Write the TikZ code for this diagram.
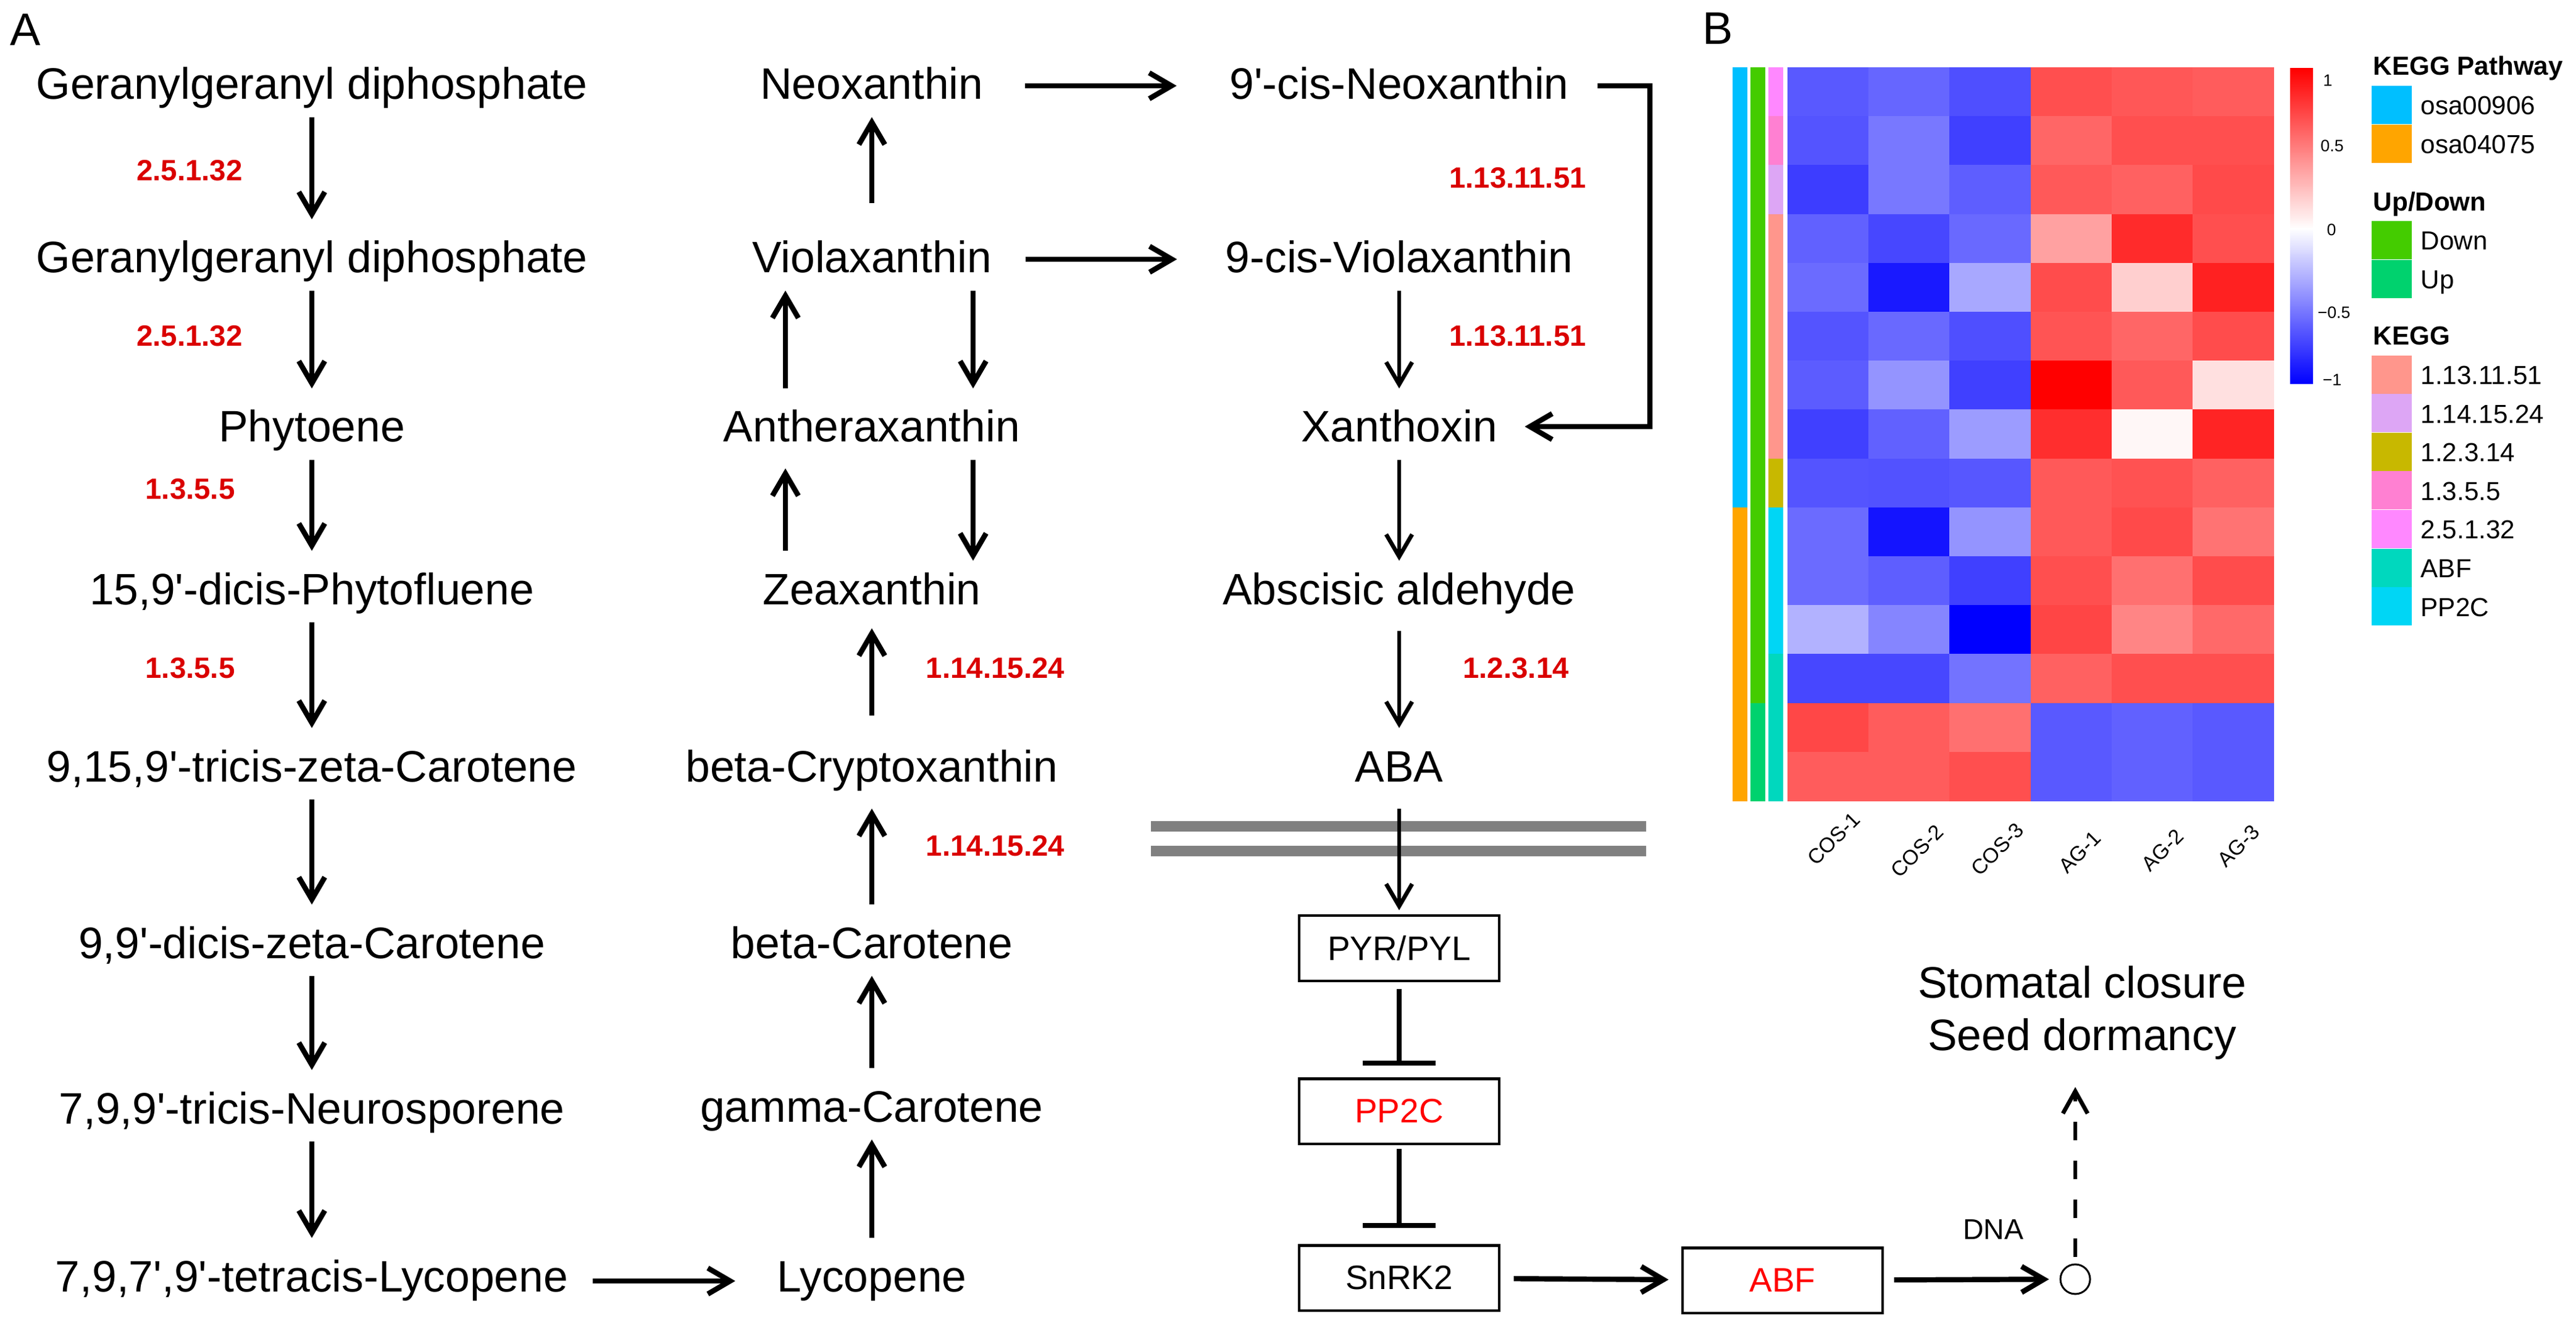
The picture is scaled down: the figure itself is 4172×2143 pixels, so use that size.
\documentclass[tikz,border=0pt]{standalone}
\usepackage{fontspec}
\setmainfont{Liberation Sans}
\usetikzlibrary{arrows.meta}
\definecolor{labred}{RGB}{218,0,0}
\definecolor{memgray}{RGB}{128,128,128}
\definecolor{hmPathA}{HTML}{00BFFF}
\definecolor{hmPathB}{HTML}{FFA500}
\definecolor{hmDown}{HTML}{44CC00}
\definecolor{hmUp}{HTML}{00D26E}
\definecolor{hmKa}{HTML}{FF968C}
\definecolor{hmKb}{HTML}{DDA6F5}
\definecolor{hmKc}{HTML}{C8B800}
\definecolor{hmKd}{HTML}{FF80D2}
\definecolor{hmKe}{HTML}{FF88FF}
\definecolor{hmKf}{HTML}{00D8BE}
\definecolor{hmKg}{HTML}{00D6F5}
\newcommand{\ap}{\textquotesingle}
\begin{document}
\begin{tikzpicture}[x=0.01cm,y=-0.01cm,
  met/.style={font=\fontsize{20.3}{24}\selectfont, anchor=base, inner sep=0pt, text height=0.86cm, text depth=0.28cm},
  ec/.style={font=\fontsize{13.5}{16}\selectfont\bfseries, text=labred, anchor=base, inner sep=0pt},
  box/.style={draw, line width=1.15pt, minimum width=3.23cm, minimum height=1.05cm, inner sep=0pt, font=\fontsize{15.6}{18}\selectfont},
  arr/.style={line width=2.4pt, -{Straight Barb[length=3.6mm,width=4.2mm]}},
  arrthin/.style={line width=1.9pt, -{Straight Barb[length=3.6mm,width=4.2mm]}},
  inh/.style={line width=2.5pt, -{Bar[width=1.18cm]}},
  mem/.style={line width=0.17cm, memgray},
  panel/.style={font=\fontsize{21}{24}\selectfont, anchor=base west, inner sep=0pt},
  legt/.style={font=\fontsize{12}{14}\selectfont\bfseries, anchor=base west, inner sep=0pt},
  legi/.style={font=\fontsize{12}{14}\selectfont, anchor=base west, inner sep=0pt},
  tick/.style={font=\fontsize{7.6}{9}\selectfont, inner sep=0pt},
  collab/.style={font=\fontsize{9.6}{11}\selectfont, rotate=45, anchor=base east, inner sep=0pt}
]
\useasboundingbox (0,0) rectangle (4172,2143);

% panel labels
\node[panel] (pA) at (16,74) {A};
\node[panel] (pB) at (2757,72) {B};

% column 1
\node[met] (g1) at (505,161) {Geranylgeranyl diphosphate};
\node[met] (g2) at (505,442) {Geranylgeranyl diphosphate};
\node[met] (phy) at (505,716) {Phytoene};
\node[met] (pfl) at (505,979) {15,9\ap-dicis-Phytofluene};
\node[met] (zca) at (505,1266) {9,15,9\ap-tricis-zeta-Carotene};
\node[met] (zcb) at (505,1552) {9,9\ap-dicis-zeta-Carotene};
\node[met] (neu) at (505,1820) {7,9,9\ap-tricis-Neurosporene};
\node[met] (tly) at (505,2092) {7,9,7\ap,9\ap-tetracis-Lycopene};

\node[ec] (e1) at (307,293) {2.5.1.32};
\node[ec] (e2) at (307,561) {2.5.1.32};
\node[ec] (e3) at (308,808) {1.3.5.5};
\node[ec] (e4) at (308,1098) {1.3.5.5};

\draw[arr] (g1) -- (g2);
\draw[arr] (g2) -- (phy);
\draw[arr] (phy) -- (pfl);
\draw[arr] (pfl) -- (zca);
\draw[arr] (zca) -- (zcb);
\draw[arr] (zcb) -- (neu);
\draw[arr] (neu) -- (tly);

% column 2
\node[met] (neo) at (1412,161) {Neoxanthin};
\node[met] (vio) at (1412,442) {Violaxanthin};
\node[met] (ant) at (1412,716) {Antheraxanthin};
\node[met] (zea) at (1412,979) {Zeaxanthin};
\node[met] (bcr) at (1412,1266) {beta-Cryptoxanthin};
\node[met] (bca) at (1412,1552) {beta-Carotene};
\node[met] (gca) at (1412,1817) {gamma-Carotene};
\node[met] (lyc) at (1412,2092) {Lycopene};

\node[ec] (e5) at (1612,1098) {1.14.15.24};
\node[ec] (e6) at (1612,1386) {1.14.15.24};

\coordinate (cL) at (1272,0);
\coordinate (cR) at (1576,0);

\draw[arr, shorten <=0.26cm] (vio) -- (neo);
\draw[arr] (ant.north -| cL) -- (vio.south -| cL);
\draw[arr] (vio.south -| cR) -- (ant.north -| cR);
\draw[arr] (zea.north -| cL) -- ([yshift=-0.14cm]ant.south -| cL);
\draw[arr] (ant.south -| cR) -- ([yshift=-0.16cm]zea.north -| cR);
\draw[arr, shorten <=0.2cm, shorten >=0.1cm] (bcr) -- (zea);
\draw[arr, shorten >=0.15cm] (bca) -- (bcr);
\draw[arr] (gca) -- (bca);
\draw[arr] (lyc) -- (gca);

\draw[arr] ([shift={(39,12)}]tly.east) -- ([shift={(-67,12)}]lyc.west);

% column 3
\node[met] (cneo) at (2266,161) {9\ap-cis-Neoxanthin};
\node[met] (cvio) at (2266,442) {9-cis-Violaxanthin};
\node[met] (xan) at (2266,716) {Xanthoxin};
\node[met] (absa) at (2266,979) {Abscisic aldehyde};
\node[met] (aba) at (2266,1266) {ABA};

\node[ec] (e7) at (2458,305) {1.13.11.51};
\node[ec] (e8) at (2458,561) {1.13.11.51};
\node[ec] (e9) at (2455,1098) {1.2.3.14};

\draw[arr] ([shift={(67,7)}]neo.east) -- ([shift={(-85,7)}]cneo.west);
\draw[arr] ([shift={(54,7)}]vio.east) -- ([shift={(-78,7)}]cvio.west);
\draw[arrthin] (cvio) -- (xan);
\draw[arrthin, shorten >=-0.16cm] (xan) -- (absa);
\draw[arrthin, shorten <=0.14cm] (absa) -- (aba);

\coordinate (eR) at (2672,139);
\coordinate (eB) at (2672,691);
\draw[arr, line join=miter] ([shift={(46,7)}]cneo.east) -- (eR) -- (eB) -- ([shift={(44,4)}]xan.east);

% membrane
\coordinate (m1a) at (1864,1338);
\coordinate (m1b) at (2666,1338);
\coordinate (m2a) at (1864,1378);
\coordinate (m2b) at (2666,1378);
\draw[mem] (m1a) -- (m1b);
\draw[mem] (m2a) -- (m2b);

% signalling
\node[box] (pyr) at (2266,1536) {PYR/PYL};
\node[box, text=red] (pp2c) at (2266,1800) {PP2C};
\node[box] (snrk) at (2266,2070) {SnRK2};
\node[box, text=red] (abf) at (2887,2074) {ABF};
\node[draw, circle, line width=0.85pt, minimum size=0.48cm, inner sep=0pt] (circ) at (3361,2072) {};
\node[font=\fontsize{13.2}{15}\selectfont, anchor=base, inner sep=0pt] (dna) at (3228,2007) {DNA};
\node[met] (resa) at (3372,1616) {Stomatal closure};
\node[met] (resb) at (3372,1701) {Seed dormancy};

\draw[arrthin, shorten <=0.15cm, shorten >=0.07cm] (aba) -- (pyr);
\draw[inh, shorten <=0.11cm, shorten >=0.19cm] (pyr) -- (pp2c);
\draw[inh, shorten <=0.06cm, shorten >=0.26cm] (pp2c) -- (snrk);
\draw[arr, shorten <=0.22cm, shorten >=0.21cm] (snrk) -- (abf);
\draw[arr, shorten <=0.17cm, shorten >=0.17cm] (abf) -- (circ);
\draw[line width=1.9pt, dash pattern=on 0.3cm off 0.33cm, -{Straight Barb[length=3.6mm,width=4mm]}, shorten <=0.1cm, shorten >=0.31cm] (circ) -- (resb.south -| circ);

% ---------- heatmap ----------
\foreach \r/\vals in {
 1/{-65,-60,-69,69,66,64},
 2/{-67,-53,-75,60,69,69},
 3/{-76,-53,-63,65,62,71},
 4/{-62,-72,-59,37,83,69},
 5/{-58,-90,-34,70,19,87},
 6/{-67,-59,-69,67,60,70},
 7/{-64,-42,-75,100,65,12},
 8/{-75,-62,-39,82,3,86},
 9/{-67,-68,-66,65,68,62},
 10/{-58,-92,-42,65,71,55},
 11/{-58,-63,-75,69,56,70},
 12/{-30,-48,-100,73,48,59},
 13/{-72,-72,-55,62,69,69},
 14/{72,64,56,-65,-62,-65},
 15/{64,64,69,-65,-62,-65}}{
  \foreach \v [count=\c] in \vals {
    \ifnum\v<0 \edef\hma{\the\numexpr 0-(\v)\relax}\def\hmc{blue}\else\edef\hma{\v}\def\hmc{red}\fi
    \fill[\hmc!\hma!white] ({2895+(\c-1)*131.17},{109+(\r-1)*79.2}) rectangle ({2895+\c*131.17+0.6},{109+\r*79.2+0.6});
  }
}
% annotation bars
\foreach \r/\ca/\cb/\cc in {1/hmPathA/hmDown/hmKe, 2/hmPathA/hmDown/hmKd, 3/hmPathA/hmDown/hmKb,
  4/hmPathA/hmDown/hmKa, 5/hmPathA/hmDown/hmKa, 6/hmPathA/hmDown/hmKa, 7/hmPathA/hmDown/hmKa,
  8/hmPathA/hmDown/hmKa, 9/hmPathA/hmDown/hmKc, 10/hmPathB/hmDown/hmKg, 11/hmPathB/hmDown/hmKg,
  12/hmPathB/hmDown/hmKg, 13/hmPathB/hmDown/hmKf, 14/hmPathB/hmUp/hmKf, 15/hmPathB/hmUp/hmKf}{
  \fill[\cc] (2864,{109+(\r-1)*79.2}) rectangle (2888,{109+\r*79.2+0.6});
  \fill[\ca] (2806,{109+(\r-1)*79.2}) rectangle (2830,{109+\r*79.2+0.6});
  \fill[\cb] (2835,{109+(\r-1)*79.2}) rectangle (2859,{109+\r*79.2+0.6});
}
% column labels (anchor: right end of baseline)
\foreach \t/\lx/\ly [count=\c] in {COS-1/3015/1330, COS-2/3150/1350, COS-3/3280/1347,
  AG-1/3405/1360, AG-2/3539/1357, AG-3/3662/1350}{
  \node[collab] (cl\c) at (\lx,\ly) {\t};
}
% colour bar
\shade[top color=red, bottom color=white] (3709,111) rectangle (3746,371);
\shade[top color=white, bottom color=blue] (3709,370) rectangle (3746,622);
\node[tick] (t1) at (3770,130) {1};
\node[tick] (t2) at (3777,236) {0.5};
\node[tick] (t3) at (3776,372) {0};
\node[tick] (t4) at (3780,506) {−0.5};
\node[tick] (t5) at (3777,615) {−1};

% legend
\node[legt] (lt1) at (3843,122) {KEGG Pathway};
\node[legt] (lt2) at (3843,342) {Up/Down};
\node[legt] (lt3) at (3843,559) {KEGG};
\foreach \y/\cl/\t in {139/hmPathA/osa00906, 202/hmPathB/osa04075, 358/hmDown/Down, 421/hmUp/Up,
  576/hmKa/1.13.11.51, 638.5/hmKb/1.14.15.24, 701/hmKc/1.2.3.14, 763.5/hmKd/1.3.5.5,
  826/hmKe/2.5.1.32, 888.5/hmKf/ABF, 951/hmKg/PP2C}{
  \fill[\cl] (3841,\y) rectangle (3906,{\y+62});
  \node[legi] at (3920,{\y+31+16}) {\t};
}
\end{tikzpicture}
\end{document}
